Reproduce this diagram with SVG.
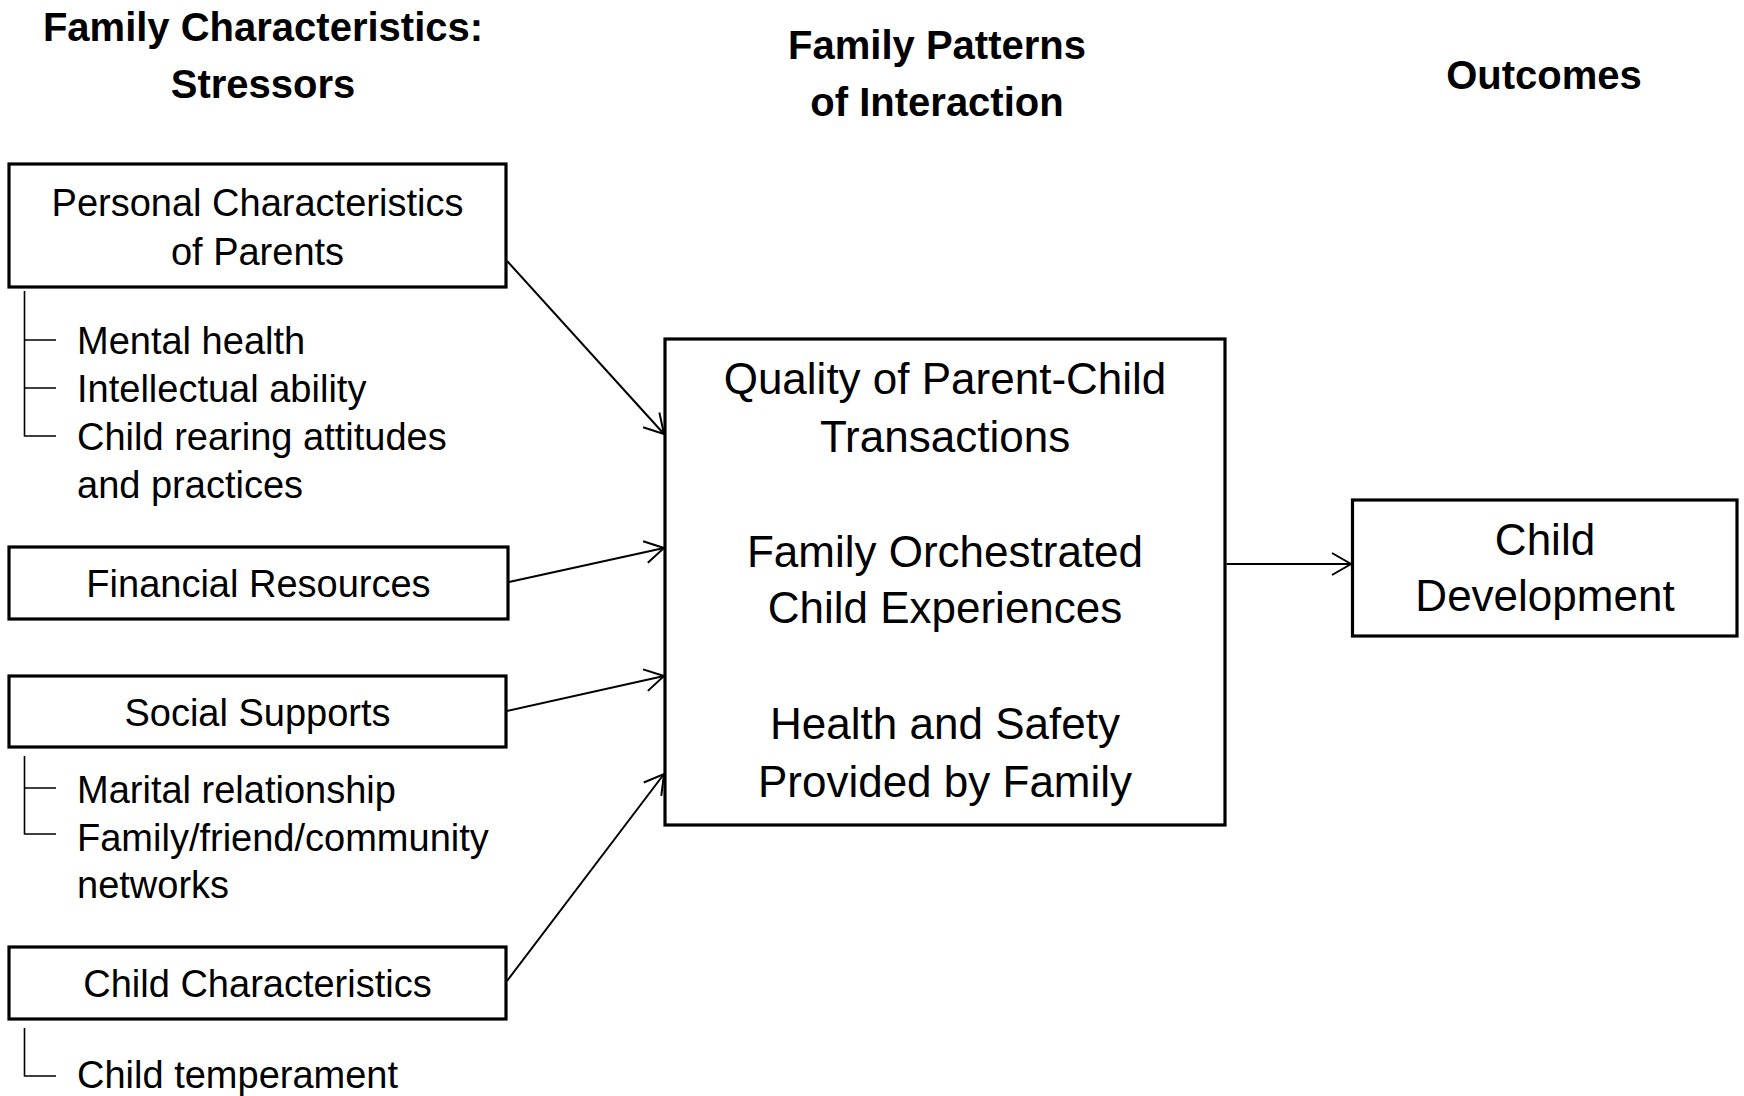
<svg xmlns="http://www.w3.org/2000/svg" width="1744" height="1096" viewBox="0 0 1744 1096">
<style>
  text { font-family: "Liberation Sans", Arial, sans-serif; fill: #000; }
  .title { font-weight: bold; font-size: 40px; text-anchor: middle; }
  .box { fill: #fff; stroke: #000; stroke-width: 3.2; }
  .lbl { font-size: 38px; text-anchor: middle; }
  .big { font-size: 44px; text-anchor: middle; }
  .sub { font-size: 38px; }
  .tree { fill: none; stroke: #000; stroke-width: 1.6; }
  .conn { fill: none; stroke: #000; stroke-width: 2; }
</style>
<defs>
  <marker id="arrow" markerUnits="userSpaceOnUse" markerWidth="30" markerHeight="30" viewBox="-22 -15 26 30" refX="0" refY="0" orient="auto">
    <path d="M -19 -11 L 0 0 L -19 11" fill="none" stroke="#000" stroke-width="2"/>
  </marker>
</defs>
<rect width="1744" height="1096" fill="#fff"/>

<g id="headings">
  <text class="title" x="263" y="41">Family Characteristics:</text>
  <text class="title" x="263" y="98">Stressors</text>
  <text class="title" x="937" y="59">Family Patterns</text>
  <text class="title" x="937" y="116">of Interaction</text>
  <text class="title" x="1544" y="89">Outcomes</text>
</g>

<g id="personal">
  <rect class="box" x="9" y="164" width="497" height="123"/>
  <text class="lbl" x="257.5" y="216">Personal Characteristics</text>
  <text class="lbl" x="257.5" y="265">of Parents</text>
  <path class="tree" d="M 24.5 291 V 436 H 56 M 24.5 340 H 56 M 24.5 388 H 56"/>
  <text class="sub" x="77" y="354">Mental health</text>
  <text class="sub" x="77" y="402">Intellectual ability</text>
  <text class="sub" x="77" y="450">Child rearing attitudes</text>
  <text class="sub" x="77" y="498">and practices</text>
</g>

<g id="financial">
  <rect class="box" x="9" y="547" width="499" height="72"/>
  <text class="lbl" x="258.5" y="597">Financial Resources</text>
</g>

<g id="social">
  <rect class="box" x="9" y="676" width="497" height="71"/>
  <text class="lbl" x="257.5" y="726">Social Supports</text>
  <path class="tree" d="M 24.5 756 V 834 H 56 M 24.5 788 H 56"/>
  <text class="sub" x="77" y="803">Marital relationship</text>
  <text class="sub" x="77" y="851">Family/friend/community</text>
  <text class="sub" x="77" y="898">networks</text>
</g>

<g id="child-characteristics">
  <rect class="box" x="9" y="947" width="497" height="72"/>
  <text class="lbl" x="257.5" y="997">Child Characteristics</text>
  <path class="tree" d="M 24.5 1028 V 1076 H 56"/>
  <text class="sub" x="77" y="1088">Child temperament</text>
</g>

<g id="family-patterns">
  <rect class="box" x="665" y="339" width="560" height="486"/>
  <text class="big" x="945" y="394">Quality of Parent-Child</text>
  <text class="big" x="945" y="452">Transactions</text>
  <text class="big" x="945" y="567">Family Orchestrated</text>
  <text class="big" x="945" y="623">Child Experiences</text>
  <text class="big" x="945" y="739">Health and Safety</text>
  <text class="big" x="945" y="797">Provided by Family</text>
</g>

<g id="child-development">
  <rect class="box" x="1352.5" y="500" width="384.5" height="136"/>
  <text class="big" x="1545" y="555">Child</text>
  <text class="big" x="1545" y="611">Development</text>
</g>

<g id="connectors">
  <line class="conn" x1="507" y1="261" x2="664" y2="434" marker-end="url(#arrow)"/>
  <line class="conn" x1="509" y1="582" x2="664" y2="548" marker-end="url(#arrow)"/>
  <line class="conn" x1="507" y1="711" x2="664" y2="676" marker-end="url(#arrow)"/>
  <line class="conn" x1="507" y1="981" x2="664" y2="774" marker-end="url(#arrow)"/>
  <line class="conn" x1="1226.6" y1="564" x2="1351" y2="564" marker-end="url(#arrow)"/>
</g>
</svg>
